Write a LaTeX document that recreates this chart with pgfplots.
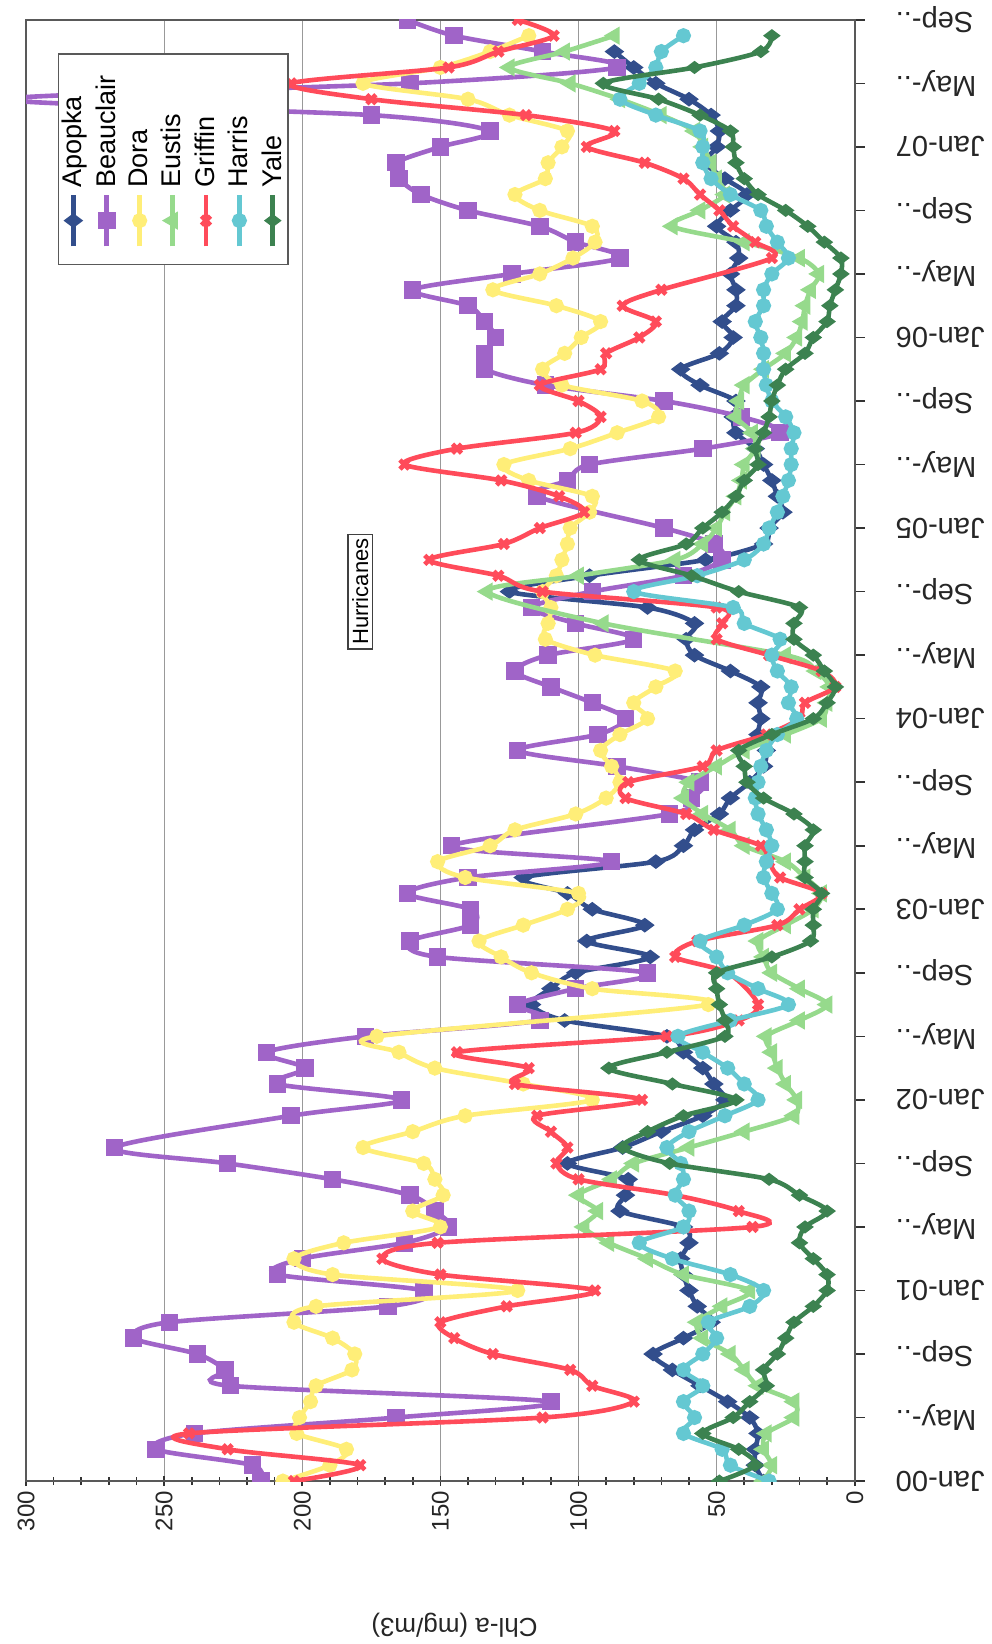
\documentclass[border=0pt]{standalone}
\usepackage{fontspec}
\setmainfont{Liberation Sans}
\usepackage{pgfplots}
\pgfplotsset{compat=1.18}
\newcommand\dd{..}
\definecolor{capopka}{RGB}{50,78,140}
\definecolor{cbeau}{RGB}{160,100,200}
\definecolor{cdora}{RGB}{255,238,120}
\definecolor{ceustis}{RGB}{150,218,140}
\definecolor{cgriffin}{RGB}{255,75,90}
\definecolor{charris}{RGB}{100,200,210}
\definecolor{cyale}{RGB}{60,130,80}
\begin{document}
\begin{tikzpicture}[rotate=90, transform shape]
\begin{axis}[
  name=ax,
  scale only axis, width=730pt, height=414pt,
  xmin=0, xmax=92, ymin=0, ymax=300,
  xtick={0,4,...,92},
  xticklabels={Jan-00,May-\dd,Sep-\dd,Jan-01,May-\dd,Sep-\dd,Jan-02,May-\dd,Sep-\dd,Jan-03,May-\dd,Sep-\dd,Jan-04,May-\dd,Sep-\dd,Jan-05,May-\dd,Sep-\dd,Jan-06,May-\dd,Sep-\dd,Jan-07,May-\dd,Sep-\dd},
  xticklabel style={rotate=90, anchor=east, font=\fontsize{14.5}{14.5}\selectfont, text=black!85},
  xticklabel shift=12pt,
  xtick pos=left, ytick pos=left,
  xtick align=outside, ytick align=center,
  ytick={0,50,...,300}, minor y tick num=4,
  yticklabel style={font=\fontsize{12}{12}\selectfont, text=black!85},
  yticklabel shift=-1pt,
  /pgf/number format/assume math mode=true,
  ymajorgrids, grid style={gray!80, line width=0.6pt},
  axis line style={gray!70!black, line width=0.8pt},
  tick style={black!80, line width=0.8pt},
  major tick length=5pt, minor tick length=4pt,
  ylabel={Chl-a (mg/m3)},
  every axis y label/.style={at={([xshift=-72pt]rel axis cs:0,0.483)}, rotate=90, anchor=center, font=\fontsize{13}{13}\selectfont, text=black!85},
  clip marker paths=true,
  legend style={at={(rel axis cs:0.977,0.962)}, anchor=north east, draw=gray!70!black, line width=0.6pt, font=\fontsize{13.5}{13.5}\selectfont, row sep=3.4pt, inner xsep=8pt, inner ysep=1pt, nodes={inner xsep=2.5pt, inner ysep=1pt}},
  legend cell align=left,
  legend image code/.code={\draw[mark repeat=2,mark phase=2] plot coordinates {(0cm,0cm) (0.45cm,0cm) (0.9cm,0cm)};},
  every axis plot/.append style={line width=2.3pt, smooth, tension=0.5},
]
\addplot[color=capopka, mark=diamond*, mark size=3pt, mark options={solid}] table {
t v
0 33
1 36
2 36
3 35
4 38
5 46
6 56
7 66
8 73
9 62
10 52
11 57
12 60
13 62
14 63
15 60
16 62
17 85
18 83
19 82
20 104
21 84
22 70
23 55
24 47
25 51
26 55
27 62
28 68
29 105
30 117
31 110
32 101
33 74
34 97
35 76
36 95
37 104
38 120
39 72
40 62
41 58
42 49
43 45
44 38
45 33
46 32
47 35
48 34
49 35
50 34
51 45
52 58
53 61
54 58
55 75
56 125
57 96
58 54
59 33
60 31
61 26
62 28
63 30
64 33
65 36
66 43
67 44
68 43
69 56
70 63
71 49
72 44
73 48
74 43
75 43
76 45
77 42
78 43
79 50
80 45
81 39
82 47
83 54
84 50
85 49
86 52
87 60
88 72
89 80
90 87
};
\addlegendentry{Apopka}
\addplot[color=cbeau, mark=square*, mark size=3.2pt, mark options={solid}] table {
t v
0 215
1 218
2 253
3 239
4 166
5 110
6 226
7 228
8 238
9 261
10 248
11 169
12 156
13 209
14 200
15 163
16 147
17 152
18 161
19 189
20 227
21 268
23 204
24 164
25 209
26 199
27 213
28 177
29 114
30 122
31 101
32 75
33 151
34 161
35 139
36 139
37 162
38 140
39 88
40 146
42 67
43 59
44 56
45 86
46 122
47 93
48 83
49 95
50 110
51 123
52 111
53 80
54 101
55 117
56 95
57 62
58 48
59 51
60 69
62 115
63 104
64 96
65 55
66 27
67 41
68 69
69 112
70 134
71 134
72 130
73 134
74 140
75 160
76 124
77 85
78 101
79 114
80 140
81 157
82 165
83 166
84 150
85 132
86 175
87 308
88 161
89 86
90 113
91 145
92 162
};
\addlegendentry{Beauclair}
\addplot[color=cdora, mark=*, mark size=2.6pt, mark options={solid}] table {
t v
0 207
1 190
2 184
3 202
4 201
5 197
6 195
7 182
8 181
9 189
10 203
11 195
12 122
13 189
14 203
15 185
16 150
17 160
18 149
19 152
20 156
21 178
22 160
23 141
24 95
25 120
26 152
27 165
28 173
30 53
31 95
32 117
33 128
34 136
35 120
36 104
37 100
38 141
39 151
40 132
41 123
42 101
43 90
44 85
45 88
46 92
47 85
48 75
49 80
50 72
51 65
52 94
53 112
54 111
55 110
56 113
57 108
58 106
59 104
60 103
61 96
62 95
63 118
64 127
65 103
66 86
67 71
68 77
69 106
70 113
71 105
72 99
73 92
74 108
75 131
76 114
77 102
78 94
79 95
80 114
81 123
82 112
83 111
84 106
85 104
86 125
87 140
88 178
89 150
90 132
91 118
};
\addlegendentry{Dora}
\addplot[color=ceustis, mark=triangle*, mark size=3pt, mark options={solid}] table {
t v
0 33
1 30
2 33
3 32
4 22
5 22
6 35
7 40
8 45
9 55
10 57
11 48
12 38
13 62
14 75
15 89
16 98
17 93
18 100
19 88
20 80
21 60
22 40
23 22
24 21
25 25
26 28
27 30
28 32
29 20
30 10
31 20
32 30
33 33
34 35
35 25
36 15
37 12
38 18
39 25
40 40
41 45
42 55
43 62
44 60
45 50
46 40
47 25
48 12
49 10
50 9
51 14
52 25
54 91
56 133
57 100
58 65
59 55
60 50
61 47
62 43
63 41
64 40
65 36
66 37
67 43
68 42
69 40
70 33
71 25
72 21
73 19
74 18
75 16
76 13
77 20
78 40
79 66
80 56
81 47
82 50
83 52
84 55
85 58
86 70
87 85
88 103
89 125
90 105
91 87
};
\addlegendentry{Eustis}
\addplot[color=cgriffin, mark=x, mark size=3.2pt, mark options={solid}] table {
t v
0 203
1 179
2 227
3 241
4 113
5 80
6 95
7 103
8 131
9 145
10 150
11 126
12 94
13 150
14 171
15 151
16 37
17 42
18 65
19 100
20 108
21 104
22 110
23 115
24 77
25 123
26 118
27 144
28 68
29 42
30 35
32 46
33 65
34 57
35 28
36 20
37 12
38 27
39 31
40 34
41 51
42 61
43 83
44 82
45 55
46 50
47 32
48 20
49 18
50 7
51 12
52 31
53 50
54 48
55 50
56 113
57 129
58 154
59 127
60 114
61 98
62 107
63 128
64 163
65 144
66 101
67 92
68 100
69 114
70 92
71 90
72 78
73 72
74 84
75 70
77 30
78 36
79 44
80 49
81 56
82 62
83 76
84 97
85 87
86 119
87 175
88 204
89 147
90 129
91 109
92 122
};
\addlegendentry{Griffin}
\addplot[color=charris, mark=*, mark size=2.6pt, mark options={solid}] table {
t v
0 31
1 45
2 48
3 62
4 58
5 62
6 55
7 62
8 55
9 50
10 53
11 38
12 33
13 45
14 66
15 78
16 62
17 60
18 65
19 62
20 63
21 68
22 60
23 47
24 35
25 40
26 46
27 55
28 64
29 45
30 24
31 35
32 46
33 50
34 56
35 40
36 28
37 30
38 33
39 32
40 30
41 32
42 35
43 36
44 35
45 34
46 32
47 28
48 21
49 24
50 23
51 28
52 30
53 27
54 40
55 44
56 80
57 57
58 40
59 33
60 31
61 28
62 26
63 24
64 23
65 23
66 22
67 25
68 30
69 32
70 33
71 33
72 34
73 36
74 33
75 33
76 30
77 24
78 28
79 32
80 34
81 45
82 52
83 55
84 55
85 56
86 72
87 85
88 78
89 72
90 70
91 62
};
\addlegendentry{Harris}
\addplot[color=cyale, mark=diamond*, mark size=2.5pt, mark options={solid}] table {
t v
0 49
1 36
2 42
3 55
4 44
5 38
6 32
7 33
8 28
9 25
10 22
11 15
12 10
13 10
14 15
15 20
16 18
17 10
18 20
19 31
20 67
21 84
22 75
23 62
24 43
25 66
26 89
27 68
28 47
29 47
30 49
31 50
32 50
33 30
34 16
35 15
36 15
37 12
38 18
39 18
40 18
41 15
42 22
43 33
44 39
45 40
46 42
47 30
48 15
49 10
50 7
51 11
52 15
53 22
54 22
55 20
56 42
57 59
58 78
59 61
60 55
61 48
62 43
63 40
64 35
65 36
66 33
67 31
68 30
69 28
70 25
71 18
72 15
73 10
74 9
75 7
76 5
77 5
78 11
79 17
80 25
81 35
82 40
83 43
84 44
85 45
86 56
87 71
88 91
89 58
90 34
91 30
};
\addlegendentry{Yale}
\node[draw=black!75, line width=0.8pt, inner sep=2pt, font=\fontsize{11}{11}\selectfont] at (axis cs:56,179) {Hurricanes};
\end{axis}
\path (ax.north west) -- ++(0pt,13pt);
\end{tikzpicture}
\end{document}
